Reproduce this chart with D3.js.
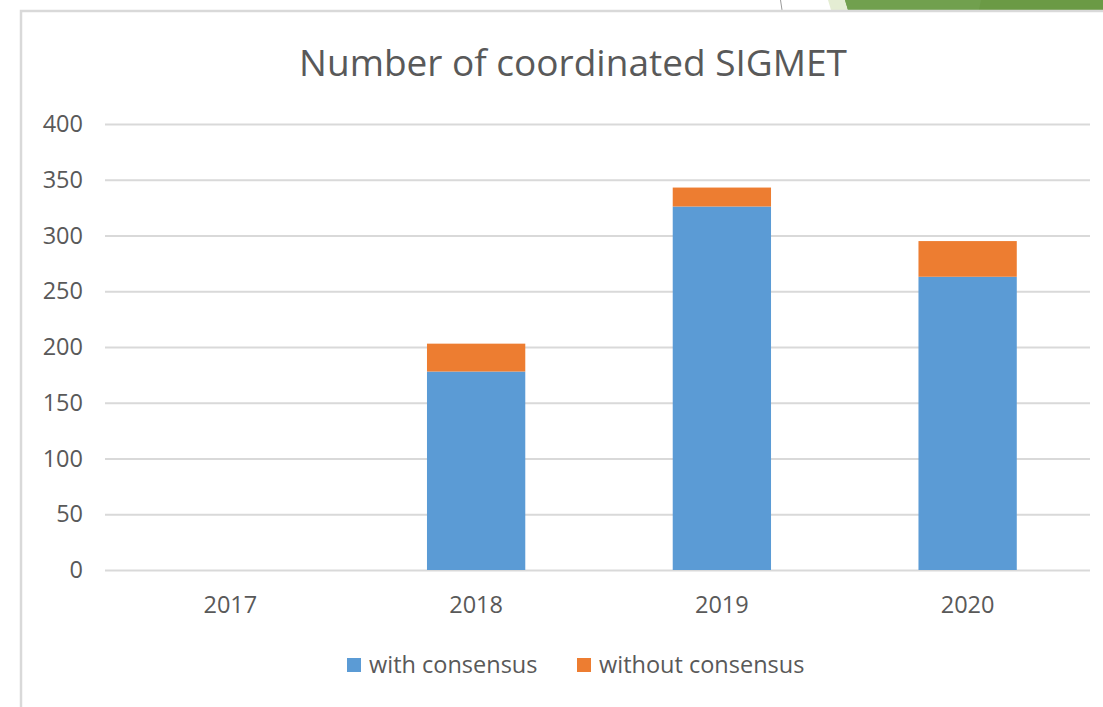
<!DOCTYPE html>
<html><head><meta charset="utf-8">
<script src="https://cdn.jsdelivr.net/npm/d3@7"></script>
<style>html,body{margin:0;padding:0;background:#fff;}svg{display:block;}</style>
</head><body>
<script>
const categories = ["2017", "2018", "2019", "2020"];
const withConsensus = [0, 178, 326, 263];
const withoutConsensus = [0, 25, 17, 32];
const seriesNames = ["with consensus", "without consensus"];
const yTicks = [0, 50, 100, 150, 200, 250, 300, 350, 400];
const title = "Number of coordinated SIGMET";

const W = 1103, H = 707;
const colors = ["#5b9bd5", "#ed7d31"];
const textColor = "#595959";
const font = "'Open Sans', 'Liberation Sans', sans-serif";
const fs = "23.5px";

const svg = d3.select("body").append("svg").attr("width", W).attr("height", H);

// decoration above frame
svg.append("line").attr("x1", 780.5).attr("y1", 0).attr("x2", 782).attr("y2", 10)
  .attr("stroke", "#9a9a9a").attr("stroke-width", 1);
svg.append("polygon").attr("points", "828,0 846,0 849,10 831,10").attr("fill", "#e4edd3");
svg.append("polygon").attr("points", "845,0 1103,0 1103,10 848,10").attr("fill", "#6b9a45");
svg.append("polygon").attr("points", "845,0 981,0 979,10 848,10").attr("fill", "#71a04e");

// frame
svg.append("path").attr("d", `M21,${H} L21,11 L${W},11`).attr("fill", "none")
  .attr("stroke", "#d9d9d9").attr("stroke-width", 2.5);

const x0 = 105, yTop = 124, yBot = 570;
const x = d3.scaleBand().domain(categories).range([107.5, 1090.5]).paddingInner(0.6).paddingOuter(0.3);
const y = d3.scaleLinear().domain([0, 400]).range([yBot, yTop]);

// gridlines
const yAxis = d3.axisLeft(y).tickValues(yTicks).tickSize(-(1090 - x0)).tickPadding(22);
const gy = svg.append("g").attr("transform", `translate(${x0},0)`).call(yAxis);
gy.select(".domain").remove();
gy.selectAll(".tick line").attr("stroke", "#d9d9d9").attr("stroke-width", 1.8);
gy.selectAll(".tick text").attr("fill", textColor).style("font-family", font).style("font-size", fs);

// x axis labels
const xAxis = d3.axisBottom(x).tickSize(0).tickPadding(26);
const gx = svg.append("g").attr("transform", `translate(0,${yBot})`).call(xAxis);
gx.select(".domain").remove();
gx.selectAll(".tick text").attr("fill", textColor).style("font-family", font).style("font-size", fs);

// stacked bars
const rows = categories.map((c, i) => ({cat: c, a: withConsensus[i], b: withoutConsensus[i]}));
const stack = d3.stack().keys(["a", "b"])(rows);
svg.append("g").selectAll("g").data(stack).join("g").attr("fill", (d, i) => colors[i])
  .selectAll("rect").data(d => d).join("rect")
  .attr("x", d => x(d.data.cat)).attr("width", x.bandwidth())
  .attr("y", d => y(d[1])).attr("height", d => y(d[0]) - y(d[1]));

// title
svg.append("text").attr("x", 573).attr("y", 76).attr("text-anchor", "middle")
  .attr("fill", textColor).style("font-family", font).style("font-size", "37px").text(title);

// legend
const leg = svg.append("g");
const legItems = [{x: 347, name: seriesNames[0], c: colors[0]}, {x: 577, name: seriesNames[1], c: colors[1]}];
legItems.forEach(it => {
  leg.append("rect").attr("x", it.x).attr("y", 658).attr("width", 14).attr("height", 14).attr("fill", it.c);
  leg.append("text").attr("x", it.x + 22).attr("y", 673).attr("fill", textColor)
    .style("font-family", font).style("font-size", fs).text(it.name);
});
</script>
</body></html>
